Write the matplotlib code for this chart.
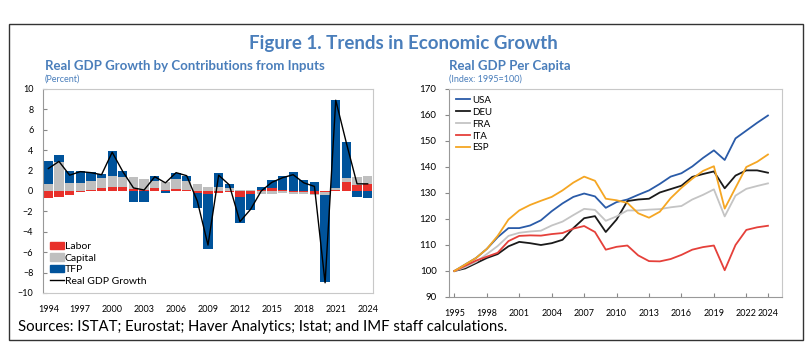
import matplotlib.pyplot as plt
import numpy as np
from matplotlib.patches import Rectangle
from matplotlib.lines import Line2D

plt.rcParams['font.family'] = ['Lato', 'DejaVu Sans']

# left panel: contributions to real GDP growth (percent)
years_l = list(range(1994, 2025))
labor = [-0.7, -0.6, -0.4, -0.1, 0.1, 0.3, 0.35, 0.35, 0.2, 0.1, 0.25, 0.05, 0.2, 0.1, -0.2, -0.3,
         -0.2, -0.05, -0.55, -0.25, 0.05, 0.25, 0.1, -0.05, -0.1, -0.3, -0.1, 0.1, 0.85, 0.6, 0.7]
capital = [0.65, 2.8, 0.8, 0.75, 0.9, 1.0, 1.1, 1.05, 1.2, 1.1, 0.75, 0.8, 1.0, 0.9, 0.7, 0.4,
           0.4, 0.3, 0.1, 0.05, -0.25, -0.25, -0.2, -0.2, -0.15, -0.1, -0.3, 0.2, 0.4, 0.8, 0.8]
tfp = [2.25, 0.7, 1.2, 1.25, 0.85, 0.4, 2.45, 0.6, -1.1, -1.1, 0.5, -0.2, 0.6, 0.45, -1.5, -5.4,
       1.35, 0.35, -2.55, -1.6, 0.3, 0.85, 1.35, 1.85, 1.05, 0.85, -8.5, 8.65, 3.55, -0.6, -0.7]
gdp = [2.2, 2.9, 1.55, 1.9, 1.8, 1.6, 3.8, 1.9, 0.3, 0.1, 1.4, 0.8, 1.8, 1.5, -1.0, -5.3,
       1.55, 0.6, -3.0, -1.8, 0.0, 0.85, 1.3, 1.6, 0.8, 0.45, -9.0, 8.9, 4.7, 0.7, 0.7]

# right panel: real GDP per capita, index 1995=100
years_r = list(range(1995, 2025))
usa = [100, 102.5, 105, 108.5, 113, 116.5, 116.5, 117.5, 119.5, 123, 126, 128.5, 129.8, 128.7, 124.3,
       126.5, 127.5, 129.3, 131, 133.5, 136.3, 137.6, 140.2, 143.5, 146.4, 142.7, 151, 154, 157, 159.8]
deu = [100, 101, 103, 105, 106.5, 109.5, 111.2, 110.7, 110.0, 110.7, 112, 116.5, 120.3, 121.1, 115,
       119.8, 126.9, 127.5, 127.8, 130.2, 131.5, 132.8, 136.2, 137.3, 138.3, 131.8, 136.7, 138.7, 138.7, 137.8]
fra = [100, 101.5, 103.5, 106.5, 109.6, 113.5, 114.7, 115.2, 115.5, 117.5, 119, 121.5, 123.9, 123.5, 119.3,
       121, 123.3, 123.3, 123.6, 123.8, 124.5, 125, 127.5, 129.3, 131.4, 121, 129, 131.6, 132.7, 133.7]
ita = [100, 102, 104, 105.5, 107, 111.5, 113.5, 113.7, 113.6, 114.2, 114.6, 116.3, 117.3, 115, 108.2,
       109.3, 109.8, 106, 103.8, 103.7, 104.6, 106.2, 108.2, 109.2, 109.8, 100.3, 110, 115.8, 116.8, 117.4]
esp = [100, 102.5, 105, 108.5, 113.5, 119.8, 123.3, 125.4, 127, 128.5, 131, 134, 136.3, 134.7, 127.8,
       127.2, 126.2, 122.2, 120.5, 122.8, 128, 132, 135.5, 138.5, 140.3, 124, 132, 140, 142, 144.8]

c_title = '#4a7ebb'
c_labor = '#e8302a'
c_cap = '#bfbfbf'
c_tfp = '#00539b'
c_frame = '#c8c8c8'

fig = plt.figure(figsize=(8.11, 3.54), dpi=100)

# outer frame
fig.patches.append(Rectangle((9 / 811, 1 - 340 / 354), 794 / 811, 316 / 354, transform=fig.transFigure,
                             fill=False, edgecolor='#333333', linewidth=1.0))

fig.text(403 / 811, 1 - 43 / 354, 'Figure 1. Trends in Economic Growth', ha='center', va='center',
         fontsize=13.5, fontweight='bold', color=c_title)
fig.text(45 / 811, 1 - 66 / 354, 'Real GDP Growth by Contributions from Inputs', ha='left', va='center',
         fontsize=9.5, fontweight='bold', color=c_title)
fig.text(45 / 811, 1 - 79 / 354, '(Percent)', ha='left', va='center', fontsize=6.5, color=c_title)
fig.text(449 / 811, 1 - 66 / 354, 'Real GDP Per Capita', ha='left', va='center',
         fontsize=9.5, fontweight='bold', color=c_title)
fig.text(449 / 811, 1 - 79 / 354, '(Index: 1995=100)', ha='left', va='center', fontsize=6.5, color=c_title)
fig.text(18 / 811, 1 - 327 / 354, 'Sources: ISTAT; Eurostat; Haver Analytics; Istat; and IMF staff calculations.',
         ha='left', va='center', fontsize=10.7, color='black')

# ---- left panel: stacked bars ----
ax1 = fig.add_axes([43 / 811, 1 - 293 / 354, 330 / 811, 204 / 354])
x = np.array(years_l)
pos_bottom = np.zeros(len(x))
neg_bottom = np.zeros(len(x))
for vals, col, lab in [(labor, c_labor, 'Labor'), (capital, c_cap, 'Capital'), (tfp, c_tfp, 'TFP')]:
    v = np.array(vals)
    bottom = np.where(v >= 0, pos_bottom, neg_bottom)
    ax1.bar(x, v, bottom=bottom, width=0.87, color=col, label=lab, zorder=2)
    pos_bottom = pos_bottom + np.where(v >= 0, v, 0)
    neg_bottom = neg_bottom + np.where(v < 0, v, 0)
ax1.plot(x, gdp, color='black', linewidth=1.0, label='Real GDP Growth', zorder=3)

ax1.set_xlim(1993.5, 2024.5)
ax1.set_ylim(-10, 10)
ax1.set_yticks(range(-10, 11, 2))
ax1.set_xticks(range(1994, 2025, 3))
ax1.tick_params(axis='y', direction='in', length=3, labelsize=6.5, color='#888888', pad=7)
ax1.tick_params(axis='x', length=0, labelsize=6.5, pad=9)
for s in ax1.spines.values():
    s.set_color(c_frame)
ax1.spines['left'].set_color('#999999')

handles = [Rectangle((0, 0), 1, 1, color=c_labor), Rectangle((0, 0), 1, 1, color=c_cap),
           Rectangle((0, 0), 1, 1, color=c_tfp), Line2D([0], [0], color='black', linewidth=1.0)]
ax1.legend(handles, ['Labor', 'Capital', 'TFP', 'Real GDP Growth'], loc='lower left', frameon=False,
           fontsize=7.5, handlelength=1.3, handleheight=0.75, handletextpad=0.1, labelspacing=0.2,
           borderaxespad=0.3, bbox_to_anchor=(0.0, 0.0))

# ---- right panel: lines ----
ax2 = fig.add_axes([449 / 811, 1 - 297 / 354, 333 / 811, 208 / 354])
ax2.plot(years_r, usa, color='#2a5ba8', linewidth=1.3, label='USA')
ax2.plot(years_r, deu, color='#1a1a1a', linewidth=1.3, label='DEU')
ax2.plot(years_r, fra, color='#c4c4c4', linewidth=1.3, label='FRA')
ax2.plot(years_r, ita, color='#e5403a', linewidth=1.3, label='ITA')
ax2.plot(years_r, esp, color='#f5a623', linewidth=1.3, label='ESP')

ax2.set_xlim(1994.5, 2025.3)
ax2.set_ylim(90, 170)
ax2.set_yticks(range(90, 171, 10))
ax2.set_xticks([1995, 1998, 2001, 2004, 2007, 2010, 2013, 2016, 2019, 2022, 2024])
ax2.tick_params(axis='y', direction='out', length=3, labelsize=7, color='#888888', pad=6)
ax2.tick_params(axis='x', direction='in', length=3, labelsize=6.5, color='#888888', pad=9)
for s in ax2.spines.values():
    s.set_color(c_frame)
ax2.spines['left'].set_color('#999999')
ax2.spines['bottom'].set_color('#999999')
ax2.legend(loc='upper left', frameon=False, fontsize=7, handlelength=1.5, handletextpad=0.2,
           labelspacing=0.3, borderaxespad=0.3, bbox_to_anchor=(0.0, 1.0))

fig.savefig('out.png', dpi=100)
